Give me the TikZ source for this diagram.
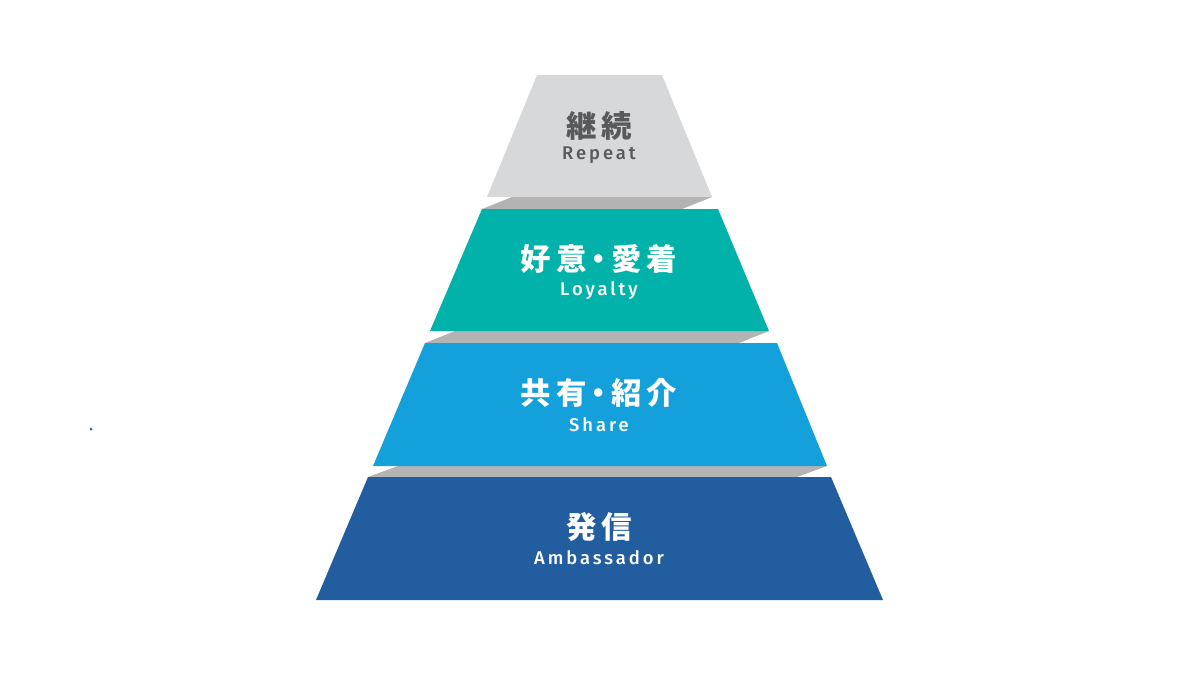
\documentclass[tikz,border=0pt]{standalone}
\usepackage{fontspec}
\newfontfamily\jp[LetterSpace=16, RawFeature=+halt]{Noto Sans CJK JP}
\newfontfamily\en[LetterSpace=16, UprightFont=* Medium]{Fira Sans}
\definecolor{repeatgray}{HTML}{D6D8D9}
\definecolor{loyalteal}{HTML}{00B2A9}
\definecolor{shareblue}{HTML}{14A0DA}
\definecolor{ambblue}{HTML}{225DA0}
\definecolor{shadegray}{HTML}{B3B3B3}
\definecolor{textgray}{HTML}{58595B}
\begin{document}
\begin{tikzpicture}[x=0.5pt, y=-0.5pt,
		shade/.style={fill=shadegray},
		jp/.style={font=\jp\bfseries\fontsize{15.2}{16}\selectfont, white},
		en/.style={font=\en\fontsize{9.2}{10}\selectfont, white}]
		\useasboundingbox (0,0) rectangle (1200,675);

		% shadows between the layers
		\fill [shade] (482,209) -- (512,197) -- (712,197) -- (682,209) -- cycle;
		\fill [shade] (425,343) -- (455,331) -- (769,331) -- (739,343) -- cycle;
		\fill [shade] (368,477) -- (398,466) -- (827,466) -- (797,477) -- cycle;

		% layers
		\fill [repeatgray] (537,75) -- (662,75) -- (712,197) -- (487,197) -- cycle;
		\fill [loyalteal] (482,209) -- (718,209) -- (769,331) -- (430,331) -- cycle;
		\fill [shareblue] (425,343) -- (777,343) -- (827,466) -- (373,466) -- cycle;
		\fill [ambblue] (368,477) -- (831,477) -- (883,600) -- (316,600) -- cycle;

		\node [jp, textgray] (repeat) at (599,126) {継続};
		\node [en, textgray] (repeaten) at (599,155) {Repeat};
		\node [jp] (loyal) at (599,259) {好意・愛着};
		\node [en] (loyalen) at (599,291) {Loyalty};
		\node [jp] (share) at (599,393) {共有・紹介};
		\node [en] (shareen) at (599,425) {Share};
		\node [jp] (amb) at (599,527) {発信};
		\node [en] (amben) at (599,558) {Ambassador};

		\fill [ambblue] (91,429) circle (1.5);
	\end{tikzpicture}
\end{document}
